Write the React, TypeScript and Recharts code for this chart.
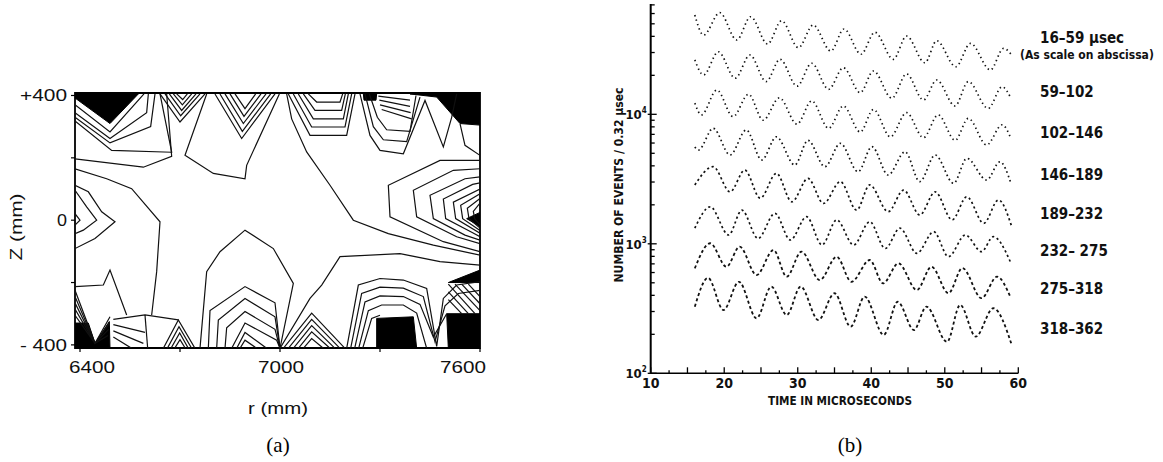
import React from "react";
import {
  ScatterChart,
  Scatter,
  XAxis,
  YAxis,
  ReferenceArea,
  LineChart,
  Line,
} from "recharts";

type Pt = [number, number];

// ---- panel (a): contour map, points are [r (mm), z (mm)] ----
const rTicks = [6400, 6700, 7000, 7300, 7600];
const zTicks = [-400, -200, 0, 200, 400];

const blackPatches: Pt[][] = [
  [[6385, 405], [6575, 405], [6490, 310], [6385, 392]],
  [[7390, 405], [7600, 405], [7600, 305], [7540, 310], [7470, 395]],
  [[7250, 405], [7290, 405], [7288, 385], [7252, 385]],
  [[6385, -330], [6425, -330], [6445, -395], [6488, -325], [6490, -411], [6385, -411]],
  [[7290, -315], [7400, -310], [7410, -411], [7290, -411]],
  [[7500, -300], [7600, -300], [7600, -411], [7505, -411]],
  [[7505, -200], [7600, -160], [7600, -200]],
  [[7600, 25], [7560, 5], [7600, -20]],
];

const topLeftContours: Pt[][] = [
  [[6385, 370], [6490, 283], [6592, 405]],
  [[6385, 345], [6490, 262], [6600, 345], [6605, 405]],
  [[6385, 330], [6490, 248], [6612, 300], [6625, 405]],
  [[6385, 318], [6495, 224], [6675, 218], [6640, 405]],
  [[6385, 197], [6590, 170], [6675, 205], [6660, 405]],
];

const topFanContours: Pt[][] = [
  [[6640, 405], [6700, 315], [6775, 405]],
  [[6655, 405], [6702, 335], [6760, 405]],
  [[6668, 405], [6705, 352], [6748, 405]],
  [[6680, 405], [6707, 370], [6735, 405]],
  [[6690, 405], [6708, 387], [6722, 405]],
];

const topMiddleContours: Pt[][] = [
  [[6780, 405], [6715, 208], [6800, 150], [6895, 133], [6900, 176], [6998, 405]],
  [[6805, 405], [6885, 262], [6985, 405]],
  [[6820, 405], [6887, 285], [6972, 405]],
  [[6835, 405], [6890, 310], [6958, 405]],
  [[6850, 405], [6892, 333], [6943, 405]],
  [[6865, 405], [6895, 358], [6927, 405]],
  [[7020, 405], [7035, 325], [7080, 219], [7150, 112], [7220, 0], [7325, -43], [7460, -80], [7600, -112]],
];

const topRightContours: Pt[][] = [
  [[7025, 405], [7090, 272], [7200, 272], [7225, 405]],
  [[7040, 405], [7095, 299], [7195, 299], [7215, 405]],
  [[7055, 405], [7100, 325], [7190, 325], [7205, 405]],
  [[7070, 405], [7105, 352], [7185, 352], [7196, 405]],
  [[7085, 405], [7110, 379], [7180, 379], [7188, 405]],
  [[7240, 405], [7270, 272], [7300, 224], [7370, 213], [7435, 384], [7490, 235], [7515, 330], [7530, 405]],
  [[7255, 405], [7280, 300], [7310, 258], [7380, 252], [7420, 395]],
  [[7268, 405], [7292, 330], [7320, 290], [7390, 285], [7408, 400]],
  [[7295, 398], [7390, 385]],
  [[7298, 385], [7390, 365]],
  [[7300, 370], [7392, 345]],
  [[7305, 355], [7395, 325]],
  [[7540, 310], [7555, 240], [7600, 208]],
];

const rightContours: Pt[][] = [
  [[7600, 192], [7480, 192], [7325, 112], [7330, 11], [7490, -69], [7600, -101]],
  [[7600, 165], [7520, 160], [7400, 96], [7410, 11], [7530, -53], [7600, -75]],
  [[7600, 139], [7555, 133], [7450, 80], [7460, 5], [7555, -48], [7600, -64]],
  [[7600, 120], [7578, 115], [7490, 68], [7497, 5], [7578, -40], [7600, -53]],
  [[7600, 100], [7520, 58], [7527, 5], [7600, -42]],
  [[7600, 85], [7542, 48], [7548, 5], [7600, -33]],
  [[7600, 70], [7562, 38], [7567, 5], [7600, -25]],
  [[7600, 55], [7580, 28], [7584, 5], [7600, -15]],
];

const leftContours: Pt[][] = [
  [[6385, 165], [6480, 133], [6555, 101], [6640, -5], [6630, -165], [6615, -304]],
  [[6385, 112], [6425, 91], [6465, 27], [6505, -5], [6445, -59], [6385, -91]],
  [[6385, 96], [6420, 43], [6450, 0], [6410, -32], [6385, -43]],
  [[6385, 21], [6400, 0], [6385, -16]],
  [[6385, -213], [6470, -208], [6490, -160], [6540, -304]],
];

const bottomLeftContours: Pt[][] = [
  [[6385, -225], [6445, -395], [6490, -310]],
  [[6385, -245], [6445, -395], [6488, -330]],
  [[6385, -265], [6445, -395], [6486, -350]],
  [[6385, -285], [6445, -395], [6484, -370]],
  [[6385, -305], [6445, -395]],
  [[6500, -318], [6595, -304], [6695, -320]],
  [[6595, -304], [6603, -411]],
  [[6500, -335], [6595, -360]],
  [[6500, -355], [6590, -395]],
  [[6500, -375], [6555, -411]],
  [[6650, -411], [6695, -320], [6745, -411]],
  [[6662, -411], [6697, -342], [6735, -411]],
  [[6673, -411], [6699, -362], [6725, -411]],
  [[6684, -411], [6700, -383], [6716, -411]],
];

const domeContours: Pt[][] = [
  [[6760, -411], [6780, -165], [6820, -101], [6895, -32], [6980, -91], [7040, -203], [7000, -411]],
  [[6785, -411], [6790, -290], [6895, -213], [6985, -265], [7000, -411]],
  [[6810, -411], [6815, -320], [6895, -251], [6985, -310], [7000, -411]],
  [[6835, -411], [6840, -345], [6895, -293], [6985, -350], [7000, -411]],
  [[6855, -411], [6895, -330], [6990, -385], [7000, -411]],
  [[6870, -411], [6895, -360], [6960, -411]],
  [[6880, -411], [6895, -385], [6930, -411]],
];

const bottomRightContours: Pt[][] = [
  [[7000, -411], [7090, -251], [7125, -208], [7180, -117], [7360, -107], [7480, -133], [7600, -144]],
  [[7010, -411], [7095, -298], [7195, -411]],
  [[7025, -411], [7095, -318], [7180, -411]],
  [[7040, -411], [7095, -338], [7165, -411]],
  [[7055, -411], [7095, -358], [7150, -411]],
  [[7070, -411], [7095, -380], [7130, -411]],
  [[7200, -411], [7235, -208], [7300, -187], [7370, -192], [7440, -219], [7470, -405], [7490, -251], [7530, -208], [7600, -197]],
  [[7212, -411], [7245, -235], [7300, -215], [7370, -218], [7430, -245], [7465, -390], [7495, -275], [7535, -235], [7600, -225]],
  [[7224, -411], [7255, -262], [7300, -243], [7370, -245], [7420, -270], [7460, -375], [7500, -300]],
  [[7236, -411], [7265, -290], [7305, -272], [7370, -272], [7410, -298], [7440, -411]],
  [[7248, -411], [7275, -315], [7300, -305]],
  [[7505, -205], [7585, -300]],
  [[7525, -205], [7600, -290]],
  [[7545, -205], [7600, -268]],
  [[7565, -205], [7600, -245]],
  [[7505, -230], [7565, -300]],
  [[7505, -255], [7545, -300]],
];

const allContours = [
  ...topLeftContours,
  ...topFanContours,
  ...topMiddleContours,
  ...topRightContours,
  ...rightContours,
  ...leftContours,
  ...bottomLeftContours,
  ...domeContours,
  ...bottomRightContours,
];

// ---- panel (b): wiggle counts, times in microseconds ----
const timeTicks = [10, 12.5, 15, 17.5, 20, 22.5, 25, 27.5, 30, 32.5, 35, 37.5, 40, 42.5, 45, 47.5, 50, 52.5, 55, 57.5, 60];
const countTicks = [
  100, 200, 300, 400, 500, 600, 700, 800, 900,
  1000, 2000, 3000, 4000, 5000, 6000, 7000, 8000, 9000,
  10000, 20000, 30000, 40000, 50000, 60000, 70000,
];
const windowLabels = ["16–59 µsec", "59–102", "102–146", "146–189", "189–232", "232– 275", "275–318", "318–362"];

const s1Times = [16.0, 17.2, 19.4, 21.7, 23.6, 25.9, 27.8, 30.1, 32.1, 34.5, 36.3, 38.6, 40.5, 43.0, 44.8, 47.3, 48.9, 51.5, 53.5, 56.2, 58.0, 59.1];
const s1Counts = [58400, 40900, 60900, 37500, 56700, 34900, 52800, 32700, 48900, 30800, 45600, 29100, 43000, 26600, 40200, 25000, 37000, 23300, 35300, 22000, 32300, 28700];
const s2Times = [16.0, 17.2, 19.2, 21.5, 23.5, 25.7, 27.6, 29.9, 31.9, 34.2, 36.2, 38.5, 40.3, 42.8, 44.8, 47.1, 48.9, 51.4, 53.2, 55.9, 57.8, 59.0];
const s2Counts = [26300, 20100, 30400, 19000, 28700, 17900, 26600, 16500, 24800, 15600, 22900, 14700, 21600, 13300, 20500, 12900, 18400, 11600, 17900, 11100, 16300, 13300];
const s3Times = [16.0, 16.9, 19.0, 21.2, 23.3, 25.3, 27.5, 29.9, 31.9, 34.2, 36.2, 38.5, 40.3, 42.6, 44.8, 47.1, 49.1, 51.4, 53.2, 55.7, 57.8, 59.0];
const s3Counts = [12200, 9900, 15400, 9600, 14300, 9000, 13400, 8400, 12700, 7800, 11600, 7300, 10900, 6700, 10300, 6600, 9900, 6300, 9300, 5800, 8300, 6500];
const s4Times = [16.0, 16.5, 18.5, 20.8, 23.0, 25.1, 27.1, 29.6, 31.4, 33.7, 35.8, 38.2, 40.1, 42.3, 44.6, 46.6, 48.7, 51.2, 53.0, 55.7, 57.5, 59.0];
const s4Counts = [5600, 5300, 7800, 4850, 7570, 4440, 6700, 4060, 6300, 3940, 5970, 3600, 5620, 3400, 5140, 3020, 4850, 2930, 4570, 3110, 4300, 2930];
const s5Times = [16.0, 18.5, 20.8, 22.8, 24.9, 27.1, 29.2, 31.4, 33.5, 35.8, 38.0, 39.8, 42.3, 44.4, 46.6, 48.7, 51.0, 53.0, 55.3, 57.3, 59.1];
const s5Counts = [2850, 3940, 2520, 3710, 2250, 3500, 2110, 3200, 2050, 3020, 1820, 2850, 1770, 2600, 1670, 2520, 1530, 2310, 1440, 2180, 1360];
const s6Times = [16.0, 18.1, 20.6, 22.4, 24.6, 26.9, 29.0, 31.2, 33.3, 35.3, 37.6, 39.8, 41.9, 43.9, 46.2, 48.5, 50.5, 52.8, 55.0, 56.6, 58.9];
const s6Counts = [1320, 1930, 1170, 1820, 1100, 1720, 1070, 1620, 980, 1530, 980, 1480, 920, 1320, 845, 1240, 795, 1170, 870, 1135, 730];
const s7Times = [16.0, 18.1, 20.3, 22.1, 24.4, 26.7, 28.5, 30.5, 33.0, 35.3, 37.3, 39.8, 41.6, 43.7, 46.2, 48.2, 50.5, 52.4, 55.0, 57.1, 58.9];
const s7Counts = [647, 1010, 665, 950, 574, 895, 557, 870, 525, 795, 509, 750, 495, 707, 440, 665, 415, 650, 380, 557, 391];
const s8Times = [16.0, 17.8, 19.9, 22.0, 24.4, 26.4, 28.5, 30.4, 32.8, 35.0, 37.2, 39.1, 41.7, 43.6, 45.8, 47.5, 50.3, 52.1, 54.2, 56.6, 59.1];
const s8Counts = [327, 545, 308, 509, 266, 467, 282, 467, 258, 415, 229, 391, 198, 357, 216, 327, 175, 337, 192, 318, 166];

const seriesTimes = [s1Times, s2Times, s3Times, s4Times, s5Times, s6Times, s7Times, s8Times];
const seriesCounts = [s1Counts, s2Counts, s3Counts, s4Counts, s5Counts, s6Counts, s7Counts, s8Counts];

const narrow = "'Liberation Sans Narrow', 'DejaVu Sans Condensed', sans-serif";
const sans = "'Liberation Sans', Arial, sans-serif";
const serif = "'Liberation Serif', 'DejaVu Serif', serif";

const toPoints = (line: Pt[]) => line.map(([r, z]) => ({ r, z }));
const noDot = () => <g />;

const fillShape = (p: any) => {
  const pts = p.points || [];
  if (!pts.length) return <g />;
  const d = "M" + pts.map((q: any) => `${q.x},${q.y}`).join("L") + "Z";
  return <path d={d} fill="#000" stroke="#000" strokeWidth={1} />;
};

const RTick = (props: any) => {
  const { x, y, payload } = props;
  const v = payload.value;
  const label = v === 6400 || v === 7000 || v === 7600 ? String(v) : "";
  const dx = v === 6400 ? 12 : v === 7600 ? -17 : 1;
  return (
    <g>
      <line x1={x} y1={y} x2={x} y2={y + 4} stroke="#000" strokeWidth={1.2} />
      {label && (
        <text x={x + dx} y={y + 25} textAnchor="middle" fontSize={17} fontFamily={sans}
          textLength={46} lengthAdjust="spacingAndGlyphs" fill="#111">{label}</text>
      )}
    </g>
  );
};

const ZTick = (props: any) => {
  const { x, y, payload } = props;
  const v = payload.value;
  const label = v === 400 ? "+400" : v === 0 ? "0" : v === -400 ? "- 400" : "";
  return (
    <g>
      <line x1={x - 4} y1={y} x2={x} y2={y} stroke="#000" strokeWidth={1.2} />
      {label && (
        <text x={x - 8} y={y + 6} textAnchor="end" fontSize={17} fontFamily={sans} fill="#111"
          textLength={label === "0" ? 10 : 47} lengthAdjust="spacingAndGlyphs">{label}</text>
      )}
    </g>
  );
};

const TTick = (props: any) => {
  const { x, y, payload } = props;
  const v = payload.value;
  const major = v % 5 === 0;
  return (
    <g>
      <line x1={x} y1={y} x2={x} y2={y - (major ? 6 : 3)} stroke="#000" strokeWidth={1.3} />
      {v % 10 === 0 && (
        <text x={x} y={y + 15} textAnchor="middle" fontSize={14} fontWeight="bold" fontFamily={narrow} fill="#111">{v}</text>
      )}
    </g>
  );
};

const CTick = (props: any) => {
  const { x, y, payload } = props;
  const v = payload.value;
  const exp = Math.log10(v);
  const major = Math.abs(exp - Math.round(exp)) < 1e-6;
  return (
    <g>
      <line x1={major ? x - 3 : x} y1={y} x2={x + (major ? 6 : 4)} y2={y} stroke="#000" strokeWidth={1.3} />
      {major && (
        <text x={x - 4} y={y + 5} textAnchor="end" fontSize={13} fontWeight="bold" fontFamily={narrow} fill="#111">
          10<tspan dy={-6} fontSize={8}>{Math.round(exp)}</tspan>
        </text>
      )}
    </g>
  );
};

const lineStyle = (i: number) => {
  if (i < 3) return { dash: "1.4 3.2", width: 1.7 };
  if (i < 4) return { dash: "1.6 3", width: 1.7 };
  if (i < 6) return { dash: "2.2 2.8", width: 1.7 };
  return { dash: "3 2.6", width: 1.8 };
};

const labelTops = [38, 92, 133, 175, 214, 251, 289, 329];

export default function App() {
  return (
    <div style={{ position: "absolute", left: 0, top: 0, width: 1163, height: 462, background: "#fff", overflow: "hidden" }}>
      <div style={{ position: "absolute", left: 0, top: 0 }}>
        <ScatterChart width={500} height={462} margin={{ top: 93, right: 20, bottom: 84, left: 15 }}>
          <XAxis type="number" dataKey="r" domain={[6385, 7600]} ticks={rTicks} interval={0}
            allowDataOverflow height={30} tickSize={0} tickMargin={0} axisLine={false} tickLine={false} tick={<RTick />} />
          <YAxis type="number" dataKey="z" domain={[-410, 408]} ticks={zTicks} interval={0}
            allowDataOverflow width={60} tickSize={0} tickMargin={0} axisLine={false} tickLine={false} tick={<ZTick />} />
          {blackPatches.map((patch, i) => (
            <Scatter key={"f" + i} data={toPoints(patch)} shape={noDot} line={fillShape} lineType="joint" isAnimationActive={false} />
          ))}
          {allContours.map((c, i) => (
            <Scatter key={"c" + i} data={toPoints(c)} shape={noDot} line={{ stroke: "#111", strokeWidth: 1.2 }}
              lineType="joint" isAnimationActive={false} />
          ))}
          <ReferenceArea x1={6385} x2={7600} y1={-410} y2={408} fill="none" fillOpacity={0} stroke="#000" strokeWidth={1.8} />
        </ScatterChart>
      </div>

      <div style={{ position: "absolute", left: 580, top: 0 }}>
        <LineChart width={583} height={462} margin={{ top: 4, right: 144.7, bottom: 58.7, left: 10.7 }}>
          <XAxis type="number" dataKey="t" domain={[10, 60]} ticks={timeTicks} interval={0} allowDataOverflow
            height={30} tickSize={0} tickMargin={0} tickLine={false} tick={<TTick />}
            axisLine={{ stroke: "#000", strokeWidth: 1.6 }} />
          <YAxis type="number" scale="log" domain={[100, 71100]} ticks={countTicks} interval={0} allowDataOverflow
            width={60} tickSize={0} tickMargin={0} tickLine={false} tick={<CTick />}
            axisLine={{ stroke: "#000", strokeWidth: 2 }} />
          {seriesTimes.map((times, i) => {
            const st = lineStyle(i);
            const data = times.map((t, k) => ({ t, v: seriesCounts[i][k] }));
            return (
              <Line key={"s" + i} data={data} dataKey="v" type="monotone" stroke="#111" strokeWidth={st.width}
                strokeDasharray={st.dash} dot={false} activeDot={false} isAnimationActive={false} />
            );
          })}
        </LineChart>
      </div>

      <svg width={1163} height={462} style={{ position: "absolute", left: 0, top: 0, pointerEvents: "none" }}>
        <text x={278} y={414} textAnchor="middle" fontSize={16} fontFamily={sans} fill="#111" textLength={60} lengthAdjust="spacingAndGlyphs">r (mm)</text>
        <text transform="translate(22,227) rotate(-90)" textAnchor="middle" fontSize={16} fontFamily={sans} fill="#111" textLength={67} lengthAdjust="spacingAndGlyphs">Z (mm)</text>
        <text x={278} y={452} textAnchor="middle" fontSize={21} fontFamily={serif} fill="#000">(a)</text>
        <text x={850} y={452} textAnchor="middle" fontSize={21} fontFamily={serif} fill="#000">(b)</text>
        <text x={840} y={405} textAnchor="middle" fontSize={13} fontWeight="bold" fontFamily={narrow} fill="#111" textLength={144} lengthAdjust="spacingAndGlyphs">TIME IN MICROSECONDS</text>
        <text transform="translate(623,185) rotate(-90)" textAnchor="middle" fontSize={13} fontWeight="bold" fontFamily={narrow} fill="#111" textLength={195} lengthAdjust="spacingAndGlyphs">NUMBER OF EVENTS / 0.32 µsec</text>
        {windowLabels.map((lab, i) => (
          <text key={lab} x={1040} y={labelTops[i] + 5} fontSize={15} fontWeight="bold" fontFamily={narrow} fill="#111">{lab}</text>
        ))}
        <text x={1020} y={59} fontSize={12} fontWeight="bold" fontFamily={narrow} fill="#111">(As scale on abscissa)</text>
      </svg>
    </div>
  );
}
